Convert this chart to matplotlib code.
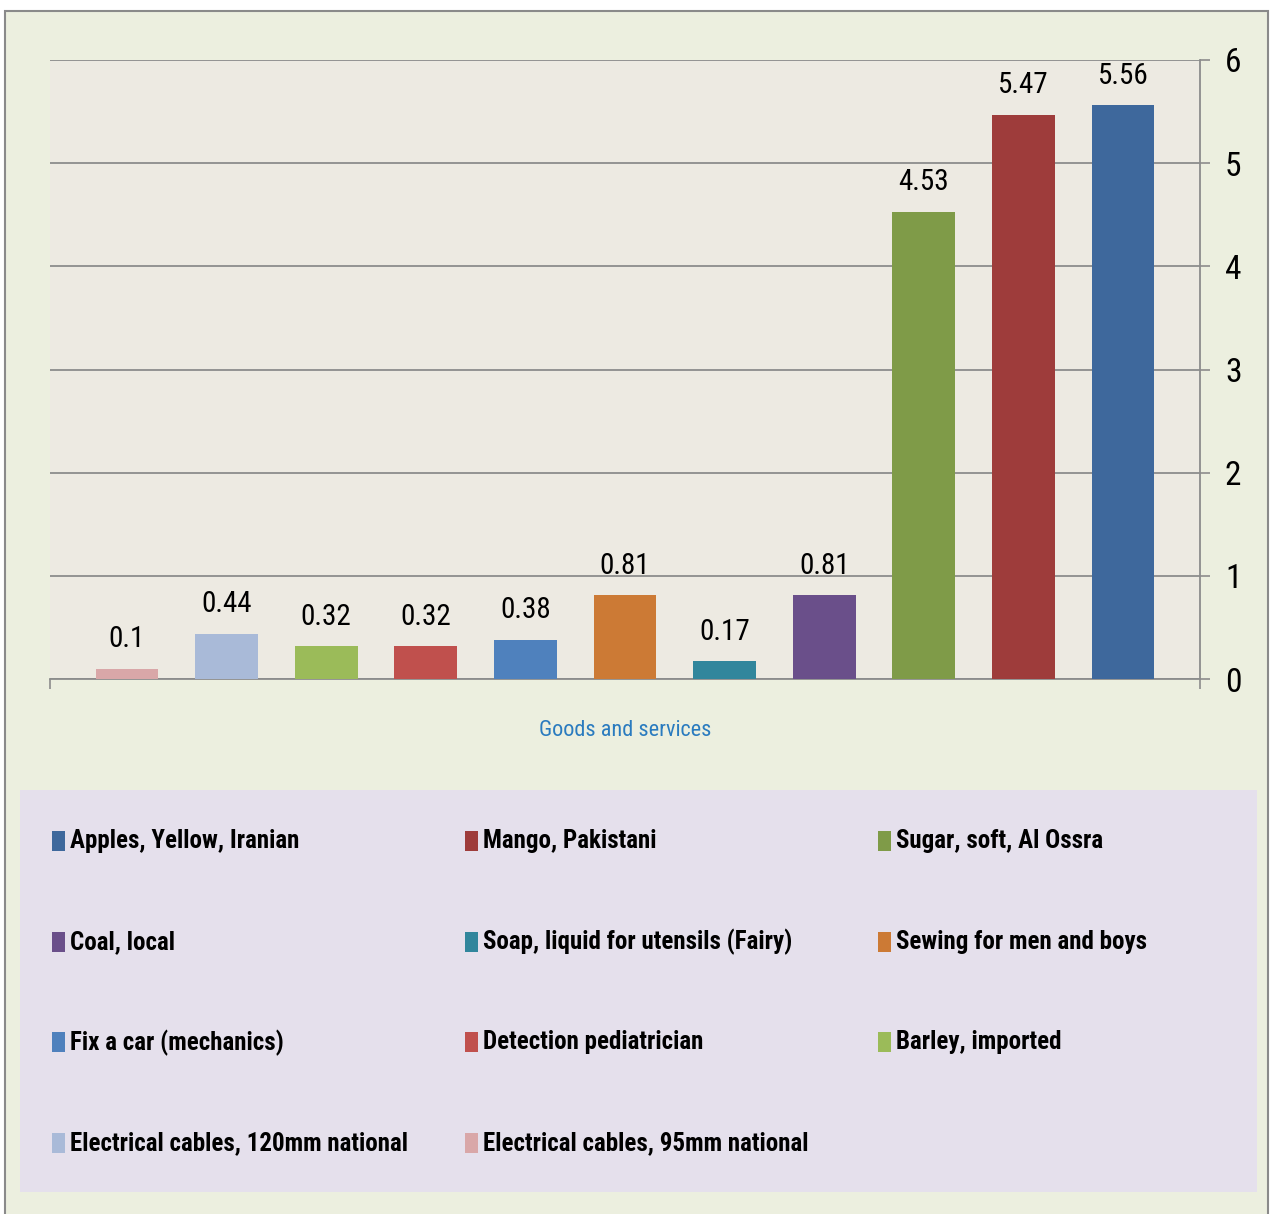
import matplotlib
matplotlib.use('Agg')
import matplotlib.pyplot as plt
from matplotlib.patches import Rectangle
from matplotlib import font_manager

# Données (ordre des barres, de gauche à droite)
series = ['Electrical cables, 95mm national', 'Electrical cables, 120mm national',
          'Barley, imported', 'Detection pediatrician', 'Fix a car (mechanics)',
          'Sewing for men and boys', 'Soap, liquid for utensils (Fairy)', 'Coal, local',
          'Sugar, soft, Al Ossra', 'Mango, Pakistani', 'Apples, Yellow, Iranian']
valeurs = [0.1, 0.44, 0.32, 0.32, 0.38, 0.81, 0.17, 0.81, 4.53, 5.47, 5.56]
couleurs = ['#D9A7A8', '#A9BAD8', '#9BBB59', '#C0504D', '#4F81BD',
            '#CC7A35', '#31869C', '#6A4F8A', '#7F9B48', '#9E3C3B', '#3E689C']
categorie = 'Goods and services'
yticks = [0, 1, 2, 3, 4, 5, 6]

noms = {f.name for f in font_manager.fontManager.ttflist}
police = [p for p in ['Liberation Sans Narrow', 'Roboto Condensed', 'Open Sans Condensed',
                      'Liberation Sans'] if p in noms] + ['DejaVu Sans']

fig = plt.figure(figsize=(12.7, 12.14), dpi=100)
fig.patch.set_facecolor('white')

# Cadre extérieur
fig.patches.append(Rectangle((5 / 1270, -0.01), 1263 / 1270, 1 - 11 / 1214 + 0.01,
                             transform=fig.transFigure, facecolor='#ECEFDF',
                             edgecolor='#8A8A8A', linewidth=1.5, zorder=-10))

ax = fig.add_axes([50 / 1270, 1 - 679 / 1214, 1150 / 1270, 619 / 1214])
ax.set_facecolor('#EDEAE2')

x = list(range(len(valeurs)))
barres = ax.bar(x, valeurs, width=0.63, color=couleurs, zorder=3)
for b, v in zip(barres, valeurs):
    ax.text(b.get_x() + b.get_width() / 2, v + 0.15, f'{v:g}', ha='center', va='bottom',
            fontsize=21, family=police, color='black', zorder=4)

ax.set_xlim(-0.773, len(valeurs) - 1 + 0.773)
ax.set_ylim(0, 6)
ax.set_yticks(yticks)
ax.yaxis.tick_right()
ax.tick_params(axis='y', length=7, width=1.2, color='#8C8C8C', pad=11, labelsize=24)
for lab in ax.get_yticklabels():
    lab.set_family(police)
ax.set_xticks(ax.get_xlim())
ax.set_xticklabels([])
ax.tick_params(axis='x', length=7, width=1.2, color='#8C8C8C')
ax.grid(axis='y', color='#8C8C8C', linewidth=1.3, zorder=1)
ax.spines['left'].set_visible(False)
ax.spines['top'].set_visible(False)
for s in ['right', 'bottom']:
    ax.spines[s].set_color('#8C8C8C')
    ax.spines[s].set_linewidth(1.3)
ax.set_xlabel(categorie, fontsize=16, family=police, color='#2A7BBF', labelpad=19)

# Légende (3 colonnes, ordre inverse des barres)
axl = fig.add_axes([20 / 1270, 1 - 1192 / 1214, 1237 / 1270, 402 / 1214])
axl.set_xlim(0, 1237)
axl.set_ylim(402, 0)
axl.axis('off')
axl.add_patch(Rectangle((0, 0), 1237, 402, facecolor='#E5E0EC', edgecolor='none'))
ordre = list(range(len(series)))[::-1]
for k, i in enumerate(ordre):
    ligne, col = divmod(k, 3)
    x0 = 32 + col * 413
    y0 = 51 + ligne * 100.7
    axl.add_patch(Rectangle((x0, y0 - 10), 13, 20, facecolor=couleurs[i], edgecolor='none'))
    axl.text(x0 + 18, y0, series[i], ha='left', va='center', fontsize=18,
             fontweight='bold', family=police, color='black')

fig.savefig('out.png', dpi=100)
